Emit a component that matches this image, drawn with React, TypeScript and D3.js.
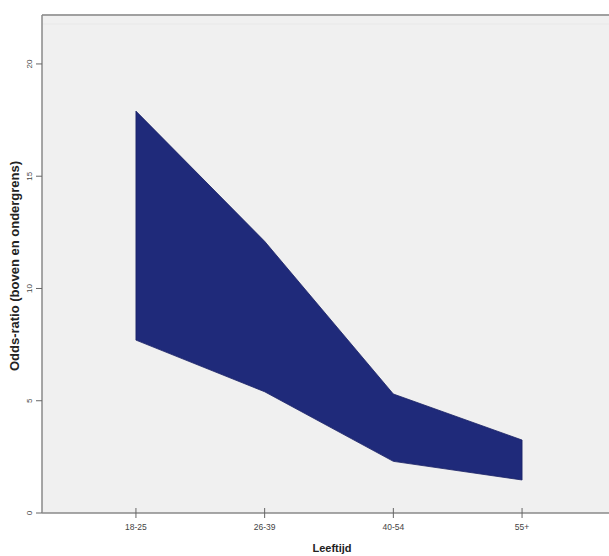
import React from "react";
import * as d3 from "d3";

const categories = ["18-25", "26-39", "40-54", "55+"];
const upperValues = [17.9, 12.1, 5.3, 3.25];
const lowerValues = [7.7, 5.4, 2.3, 1.47];
const yTicks = [0, 5, 10, 15, 20];

const W = 609;
const H = 556;
const EXT = 660;
const left = 42;
const top = 15;
const bottom = 513;
const right = 616;

export default function App() {
  const x = d3
    .scalePoint<string>()
    .domain(categories)
    .range([left, right])
    .padding(0.73);
  const y = d3.scaleLinear().domain([0, 22.18]).range([bottom, top]);

  const data = categories.map((c, i) => ({ c, lo: lowerValues[i], hi: upperValues[i] }));
  const area = d3
    .area<{ c: string; lo: number; hi: number }>()
    .x((d) => x(d.c) as number)
    .y0((d) => y(d.lo))
    .y1((d) => y(d.hi));

  return (
    <div style={{ position: "fixed", left: 0, top: 0, right: 0, bottom: 0, overflow: "hidden", background: "#fff" }}>
      <svg
        width={EXT}
        height={H}
        style={{ display: "block" }}
        fontFamily="Liberation Sans, Arial, sans-serif"
      >
        <rect x={left} y={top} width={EXT - left} height={bottom - top} fill="#f0f0f0" />
        <line x1={left} x2={EXT} y1={top} y2={top} stroke="#a0a0a0" strokeWidth={2} />
        <line x1={left} x2={EXT} y1={top + 9} y2={top + 9} stroke="#e8e8e8" strokeWidth={1} />
        <path d={area(data) || ""} fill="#1f2a7a" stroke="#1a2266" strokeWidth={0.8} />
        <line x1={left} x2={left} y1={top} y2={bottom} stroke="#8a8a8a" strokeWidth={1.5} />
        <line x1={left} x2={EXT} y1={bottom} y2={bottom} stroke="#8a8a8a" strokeWidth={1.5} />
        {yTicks.map((t) => (
          <g key={t} transform={`translate(${left},${y(t)})`}>
            <line x1={-6} x2={0} stroke="#666" strokeWidth={1} />
            <text
              transform="translate(-10,0) rotate(-90)"
              textAnchor="middle"
              fontSize={8}
              fill="#444"
            >
              {t}
            </text>
          </g>
        ))}
        {categories.map((c) => (
          <g key={c} transform={`translate(${x(c)},${bottom})`}>
            <line y1={-5} y2={5} stroke="#666" strokeWidth={1} />
            <text y={17} textAnchor="middle" fontSize={8.5} fill="#444">
              {c}
            </text>
          </g>
        ))}
        <text x={332} y={552} textAnchor="middle" fontSize={11} fontWeight="bold" fill="#222">
          Leeftijd
        </text>
        <text
          transform={`translate(19,266) rotate(-90)`}
          textAnchor="middle"
          fontSize={13}
          fontWeight="bold"
          fill="#222"
        >
          Odds-ratio (boven en ondergrens)
        </text>
      </svg>
    </div>
  );
}
